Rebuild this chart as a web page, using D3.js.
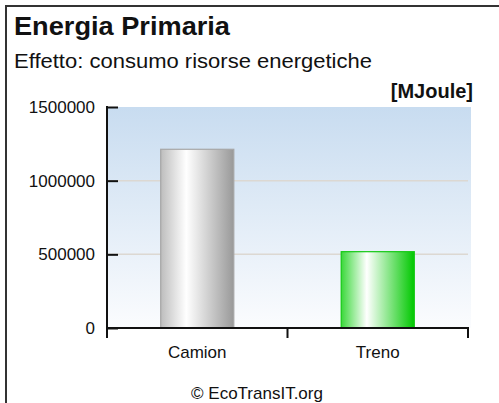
<html>
<script src="https://d3js.org/d3.v7.min.js"></script>
<style>
    body { margin: 0; background: #fff; }
    text { font-family: "Liberation Sans", Arial, sans-serif; fill: #111; }
</style>
<body>
<div id="chart"></div>
<script>
    var categories = ["Camion", "Treno"];
    var values = [1213000, 518000];
    var yTicks = [0, 500000, 1000000, 1500000];
    var gridValues = [500000, 1000000];

    var W = 499, H = 403;
    var margin = { top: 107, right: 31, bottom: 75, left: 107 };
    var width = W - margin.left - margin.right,
        height = H - margin.top - margin.bottom;

    var svg = d3.select("#chart").append("svg")
        .attr("width", W).attr("height", H);

    var defs = svg.append("defs");
    var bg = defs.append("linearGradient").attr("id", "bg")
        .attr("x1", 0).attr("y1", 0).attr("x2", 0).attr("y2", 1);
    bg.append("stop").attr("offset", "0%").attr("stop-color", "#c8dcf0");
    bg.append("stop").attr("offset", "100%").attr("stop-color", "#fbfcfe");

    function barGrad(id, c0, c2) {
        var g = defs.append("linearGradient").attr("id", id)
            .attr("x1", 0).attr("y1", 0).attr("x2", 1).attr("y2", 0);
        g.append("stop").attr("offset", "0%").attr("stop-color", c0);
        g.append("stop").attr("offset", "35%").attr("stop-color", "#ffffff");
        g.append("stop").attr("offset", "100%").attr("stop-color", c2);
    }
    barGrad("g0", "#bdbdbd", "#999999");
    barGrad("g1", "#3ad83a", "#00c800");
    var fills = ["url(#g0)", "url(#g1)"];
    var strokes = ["#a6a6a6", "#14c814"];

    // frame
    svg.append("rect").attr("x", 6).attr("y", 6)
        .attr("width", W + 20).attr("height", H + 20)
        .attr("fill", "none").attr("stroke", "#333").attr("stroke-width", 2);

    // titles
    svg.append("text").attr("x", 14).attr("y", 35)
        .attr("font-weight", "bold").attr("font-size", 25)
        .attr("textLength", 216).attr("lengthAdjust", "spacingAndGlyphs")
        .text("Energia Primaria");
    svg.append("text").attr("x", 14).attr("y", 68)
        .attr("font-size", 21)
        .attr("textLength", 358).attr("lengthAdjust", "spacingAndGlyphs")
        .text("Effetto: consumo risorse energetiche");
    svg.append("text").attr("x", 473).attr("y", 98)
        .attr("text-anchor", "end")
        .attr("font-weight", "bold").attr("font-size", 20)
        .text("[MJoule]");

    var g = svg.append("g")
        .attr("transform", "translate(" + margin.left + "," + margin.top + ")");

    var x = d3.scaleBand().domain(categories).range([0, width]);
    var y = d3.scaleLinear().domain([0, 1500000]).range([height, 0]);

    g.append("rect").attr("x", 1).attr("y", 0)
        .attr("width", width + 2).attr("height", height)
        .attr("fill", "url(#bg)");

    g.selectAll(".grid").data(gridValues).enter().append("line")
        .attr("x1", 1).attr("x2", width)
        .attr("y1", function (d) { return y(d); })
        .attr("y2", function (d) { return y(d); })
        .attr("stroke", "#dcd8d2").attr("stroke-width", 1.5);

    var barW = x.bandwidth() * 0.405;
    g.selectAll(".bar").data(values).enter().append("rect")
        .attr("x", function (d, i) { return x(categories[i]) + (x.bandwidth() - barW) / 2; })
        .attr("y", function (d) { return y(d); })
        .attr("width", barW)
        .attr("height", function (d) { return height - y(d); })
        .attr("fill", function (d, i) { return fills[i]; })
        .attr("stroke", function (d, i) { return strokes[i]; })
        .attr("stroke-width", 1.2);

    // y axis
    var yAxis = g.append("g")
        .call(d3.axisLeft(y).tickValues(yTicks).tickFormat(d3.format("d"))
            .tickSizeInner(-11).tickSizeOuter(0).tickPadding(12));
    yAxis.select(".domain").remove();
    yAxis.selectAll("line").attr("stroke", "#111").attr("stroke-width", 2);
    yAxis.selectAll("text").attr("font-size", 17).attr("fill", "#111")
        .attr("font-family", "'Liberation Sans', Arial, sans-serif");
    g.append("line").attr("x1", 0).attr("x2", 0).attr("y1", -1).attr("y2", height + 10)
        .attr("stroke", "#111").attr("stroke-width", 2);

    // x axis
    var xAxis = g.append("g").attr("transform", "translate(0," + height + ")")
        .call(d3.axisBottom(x).tickSize(0).tickPadding(18));
    xAxis.select(".domain").remove();
    xAxis.selectAll("text").attr("font-size", 17).attr("fill", "#111")
        .attr("font-family", "'Liberation Sans', Arial, sans-serif");
    g.append("line").attr("x1", 0).attr("x2", width + 1).attr("y1", height).attr("y2", height)
        .attr("stroke", "#111").attr("stroke-width", 2);
    g.selectAll(".xtick").data(categories).enter().append("line")
        .attr("x1", function (d) { return x(d) + x.bandwidth(); })
        .attr("x2", function (d) { return x(d) + x.bandwidth(); })
        .attr("y1", height).attr("y2", height + 10)
        .attr("stroke", "#111").attr("stroke-width", 2);

    svg.append("text").attr("x", 257).attr("y", 399)
        .attr("text-anchor", "middle").attr("font-size", 17).attr("fill", "#222")
        .text("\u00a9 EcoTransIT.org");
</script>
</body>
</html>
